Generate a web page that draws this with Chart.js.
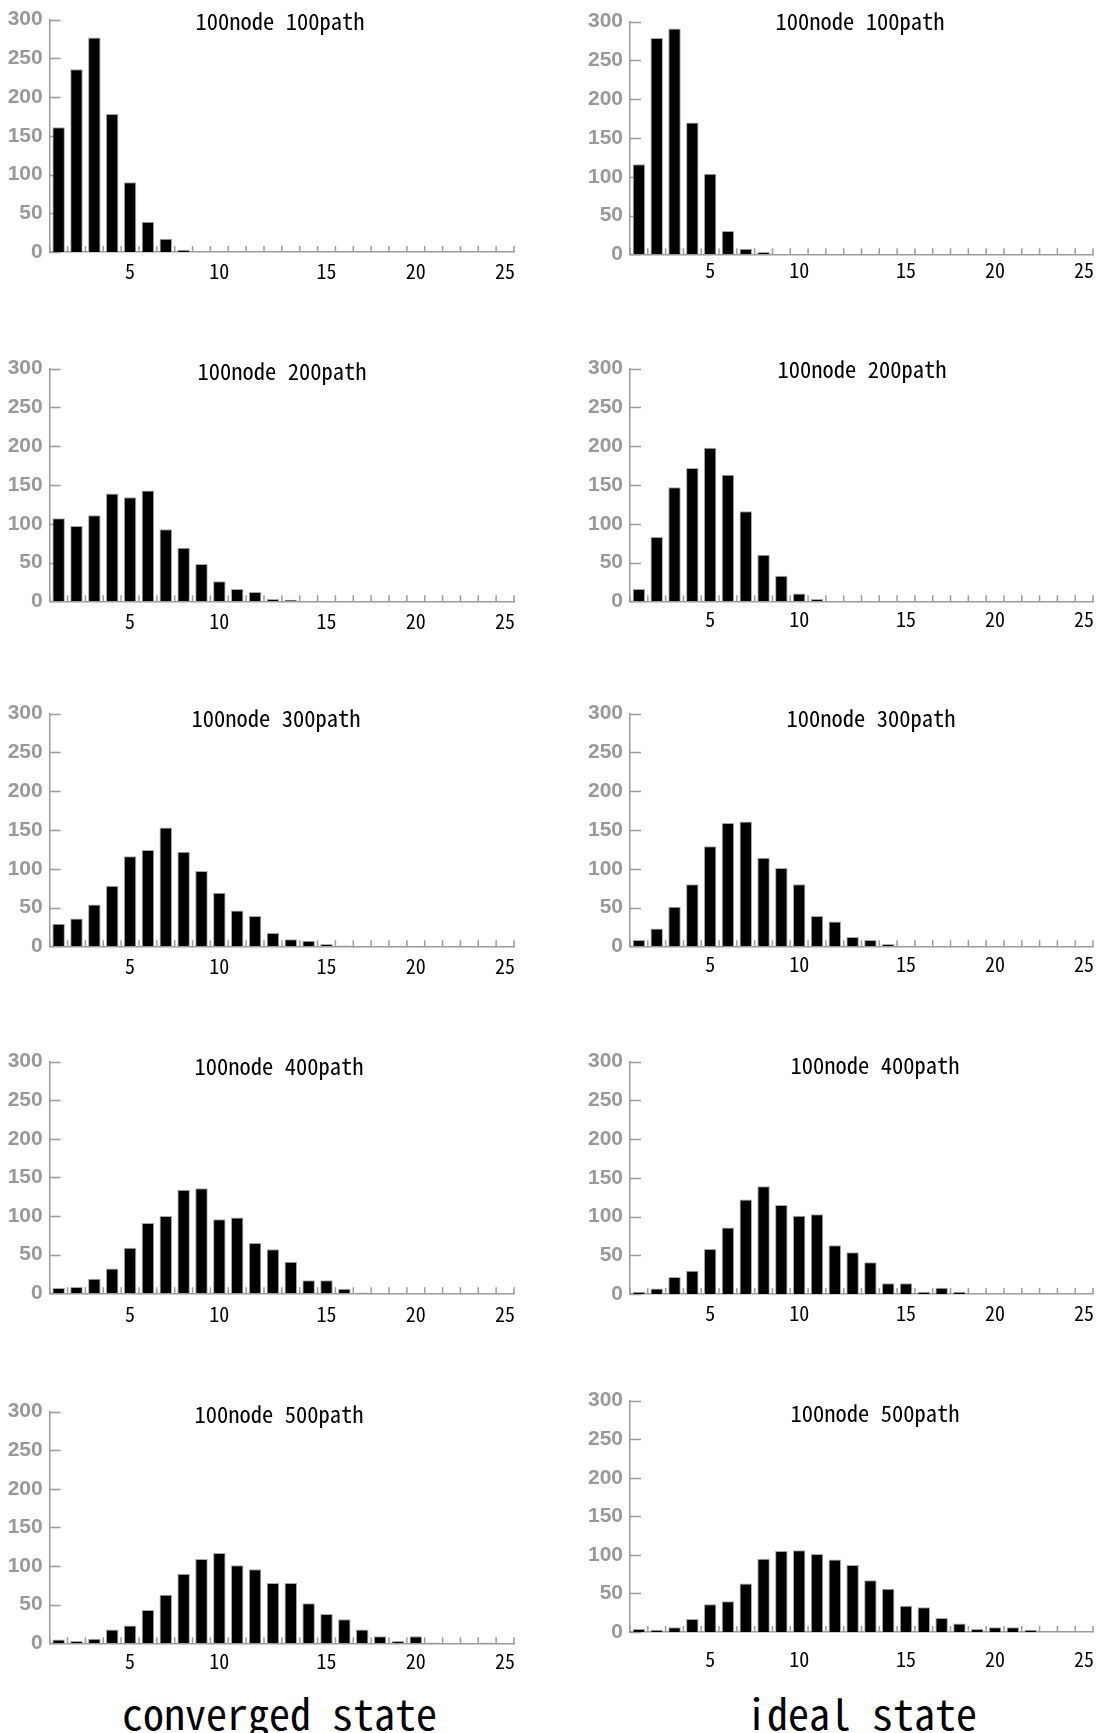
<!DOCTYPE html>
<html>
<head>
<meta charset="utf-8">
<script src="https://cdn.jsdelivr.net/npm/chart.js@4.4.1/dist/chart.umd.min.js"></script>
<style>
  html, body { margin: 0; padding: 0; background: #fff; }
  body { width: 1101px; height: 1733px; position: relative; overflow: hidden; }
  canvas.panel { position: absolute; }
  .caption {
    position: absolute;
    font-family: "Noto Sans Mono CJK JP", "Noto Sans CJK JP", "DejaVu Sans Mono", monospace;
    font-size: 42px; line-height: 1; color: #000; white-space: nowrap;
  }
</style>
</head>
<body>
<div class="caption" id="capLeft" style="left:122px; top:1691px;">converged state</div>
<div class="caption" id="capRight" style="left:746px; top:1691px;">ideal state</div>
<script>
// Path length classes on the horizontal axis
const pathLength = ['1','2','3','4','5','6','7','8','9','10','11','12','13',
                    '14','15','16','17','18','19','20','21','22','23','24','25','26'];
// Printed labels under the horizontal axis (one per class)
const xTickText = ['','','','','5','','','','','10','','','','','','15','','','','','20','','','','','25'];
// Vertical axis ticks
const yTicks = [0, 50, 100, 150, 200, 250, 300];

// Number of paths per path length, converged state
const converged100 = [161,236,277,178,90,39,17,3,0,0,0,0,0,0,0,0,0,0,0,0,0,0,0,0,0,0];
const converged200 = [107,97,111,139,134,143,93,69,48,26,16,12,3,2,0,0,0,0,0,0,0,0,0,0,0,0];
const converged300 = [29,36,54,78,116,124,153,122,97,69,46,39,17,9,7,3,1,0,0,0,0,0,0,0,0,0];
const converged400 = [7,8,19,32,59,91,100,134,136,96,98,65,57,41,17,17,6,1,0,0,0,0,0,0,0,0];
const converged500 = [5,3,6,18,23,43,63,90,109,117,101,96,78,78,52,38,31,18,9,3,9,1,0,0,1,0];

// Number of paths per path length, ideal state
const ideal100 = [116,279,291,170,104,30,7,3,0,0,0,0,0,0,0,0,0,0,0,0,0,0,0,0,0,0];
const ideal200 = [16,83,147,172,198,163,116,60,33,10,3,0,0,0,0,0,0,0,0,0,0,0,0,0,0,0];
const ideal300 = [8,23,51,80,129,159,161,114,101,80,39,32,12,8,3,0,0,0,0,0,0,0,0,0,0,0];
const ideal400 = [3,7,22,30,58,86,122,139,115,101,103,63,54,41,14,14,3,8,3,0,0,0,0,0,0,0];
const ideal500 = [4,3,6,17,36,40,63,95,105,106,101,94,87,67,56,34,32,18,11,4,6,6,3,0,0,0];

const panelTitles = ['100node 100path','100node 200path','100node 300path','100node 400path','100node 500path'];

// Page placement of every small chart: column origin, axis corner, top of value range,
// title spot and the distance from the axis line to the middle of the tick labels
const columns = [
  { x0: 0,   w: 522, axisX: 49.7, right: 514 },
  { x0: 570, w: 531, axisX: 630,  right: 1093 }
];
const panels = [
  { col: 0, series: converged100, title: panelTitles[0], top: 17.3,   zero: 252.3,  tx: 280, ty: 22,   gap: 19.4 },
  { col: 1, series: ideal100,     title: panelTitles[0], top: 19,     zero: 254.3,  tx: 860, ty: 21,   gap: 15.7 },
  { col: 0, series: converged200, title: panelTitles[1], top: 365.7,  zero: 601,    tx: 282, ty: 371,  gap: 20 },
  { col: 1, series: ideal200,     title: panelTitles[1], top: 365.7,  zero: 601,    tx: 862, ty: 369,  gap: 18.3 },
  { col: 0, series: converged300, title: panelTitles[2], top: 710.7,  zero: 946,    tx: 276, ty: 718,  gap: 20 },
  { col: 1, series: ideal300,     title: panelTitles[2], top: 710.7,  zero: 946,    tx: 871, ty: 718,  gap: 18.3 },
  { col: 0, series: converged400, title: panelTitles[3], top: 1059,   zero: 1293.3, tx: 279, ty: 1066, gap: 21 },
  { col: 1, series: ideal400,     title: panelTitles[3], top: 1059.3, zero: 1294.3, tx: 875, ty: 1066, gap: 19 },
  { col: 0, series: converged500, title: panelTitles[4], top: 1409,   zero: 1643.3, tx: 279, ty: 1414, gap: 18.4 },
  { col: 1, series: ideal500,     title: panelTitles[4], top: 1398.3, zero: 1632.3, tx: 875, ty: 1414, gap: 27.7 }
];

const MONO = '"Noto Sans Mono CJK JP", "Noto Sans CJK JP", "DejaVu Sans Mono", monospace';
const AXIS_GREY = '#9c9c9c';
const TOP_PAD = 17;
const X_AXIS_H = 44;
const X_FONT = 20;

// Short tick marks drawn on the inner side of both axes
const innerTicks = {
  id: 'innerTicks',
  beforeDatasetsDraw(chart) {
    const { ctx, chartArea, scales } = chart;
    const xs = scales.x, ys = scales.y;
    ctx.save();
    ctx.strokeStyle = AXIS_GREY;
    ctx.lineWidth = 1.5;
    ctx.beginPath();
    yTicks.forEach(v => {
      const y = Math.round(ys.getPixelForValue(v)) + 0.5;
      ctx.moveTo(chartArea.left, y);
      ctx.lineTo(chartArea.left + 11, y);
    });
    const n = pathLength.length;
    const slot = xs.getPixelForValue(1) - xs.getPixelForValue(0);
    for (let i = 0; i <= n; i++) {
      const x = (i < n ? xs.getPixelForValue(i) - slot / 2 : xs.getPixelForValue(n - 1) + slot / 2);
      ctx.moveTo(x, chartArea.bottom);
      ctx.lineTo(x, chartArea.bottom - 6);
    }
    ctx.stroke();
    ctx.restore();
  }
};

// Caption written inside each plot
const panelCaption = {
  id: 'panelCaption',
  afterDraw(chart, args, opts) {
    const { ctx } = chart;
    ctx.save();
    ctx.font = '22.5px ' + MONO;
    ctx.fillStyle = '#000';
    ctx.textAlign = 'center';
    ctx.textBaseline = 'middle';
    ctx.fillText(opts.text, opts.x, opts.y);
    ctx.restore();
  }
};

panels.forEach(p => {
  const c = columns[p.col];
  const plotH = p.zero - p.top;
  const canvasTop = p.top - TOP_PAD;
  const canvasH = Math.ceil(TOP_PAD + plotH + X_AXIS_H);
  const cv = document.createElement('canvas');
  cv.className = 'panel';
  cv.width = c.w;
  cv.height = canvasH;
  cv.style.left = c.x0 + 'px';
  cv.style.top = canvasTop + 'px';
  cv.style.width = c.w + 'px';
  cv.style.height = canvasH + 'px';
  document.body.appendChild(cv);

  new Chart(cv, {
    type: 'bar',
    data: {
      labels: pathLength,
      datasets: [{
        data: p.series,
        backgroundColor: '#000',
        borderColor: '#a8a8a8',
        borderWidth: 1,
        barPercentage: 0.7,
        categoryPercentage: 1.0
      }]
    },
    options: {
      responsive: false,
      animation: false,
      devicePixelRatio: 1,
      layout: {
        padding: {
          top: TOP_PAD,
          right: c.w - (c.right - c.x0),
          left: 0,
          bottom: canvasH - (TOP_PAD + plotH + X_AXIS_H)
        }
      },
      plugins: {
        legend: { display: false },
        tooltip: { enabled: false },
        panelCaption: { text: p.title, x: p.tx - c.x0, y: p.ty - canvasTop }
      },
      scales: {
        x: {
          type: 'category',
          offset: true,
          grid: { display: false, drawTicks: false },
          border: { display: true, color: AXIS_GREY, width: 1.5 },
          ticks: {
            autoSkip: false, maxRotation: 0, minRotation: 0,
            padding: 0,
            color: '#000',
            // the line box sets how far below the axis the numbers sit
            font: { family: MONO, size: X_FONT, lineHeight: 2 * p.gap / X_FONT },
            callback: (val, idx) => xTickText[idx]
          },
          afterFit: s => { s.height = X_AXIS_H; }
        },
        y: {
          min: 0, max: 300,
          grid: { display: false, drawTicks: false },
          border: { display: true, color: AXIS_GREY, width: 1.5 },
          ticks: {
            stepSize: 50,
            padding: 7,
            color: '#999',
            font: { family: '"Liberation Sans", Arial, sans-serif', size: 21, weight: 'bold' }
          },
          afterFit: s => { s.width = c.axisX - c.x0; }
        }
      }
    },
    plugins: [innerTicks, panelCaption]
  });
});
</script>
</body>
</html>
